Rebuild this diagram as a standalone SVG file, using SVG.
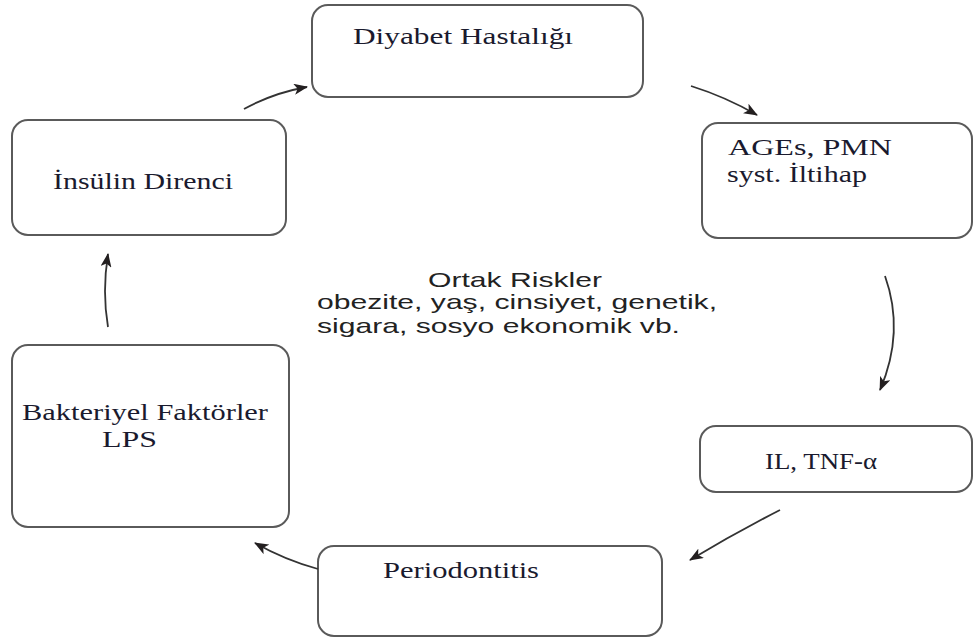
<svg xmlns="http://www.w3.org/2000/svg" width="977" height="642" viewBox="0 0 977 642">
<defs>
<marker id="ah" viewBox="0 0 14 11" refX="13" refY="5.5" markerWidth="14" markerHeight="11" markerUnits="userSpaceOnUse" orient="auto">
<path d="M0,0 L14,5.5 L0,11 L3.5,5.5 Z" fill="#231f20"/>
</marker>
<style>
.box{fill:#fff;stroke:#5a5a5a;stroke-width:2}
.t{font-family:"Liberation Serif","Times New Roman",serif;font-size:23px;fill:#1a1a2e}
.s{font-family:"Liberation Sans",Arial,sans-serif;font-size:21px;fill:#222}
.c{fill:none;stroke:#333;stroke-width:1.8}
</style>
</defs>
<rect width="977" height="642" fill="#fff"/>
<g id="diyabet"><rect class="box" x="312" y="5" width="331" height="92" rx="16"/><text class="t" x="353" y="44" textLength="220" lengthAdjust="spacingAndGlyphs">Diyabet Hastalığı</text></g>
<g id="ages"><rect class="box" x="702" y="123" width="270" height="115" rx="16"/><text class="t" x="728" y="155" textLength="164" lengthAdjust="spacingAndGlyphs">AGEs, PMN</text><text class="t" x="727" y="182" textLength="140" lengthAdjust="spacingAndGlyphs">syst. İltihap</text></g>
<g id="il"><rect class="box" x="700" y="426" width="272" height="66" rx="16"/><text class="t" x="765" y="469" textLength="112" lengthAdjust="spacingAndGlyphs">IL, TNF-α</text></g>
<g id="periodontitis"><rect class="box" x="318" y="546" width="344" height="90" rx="16"/><text class="t" x="383" y="578" textLength="156" lengthAdjust="spacingAndGlyphs">Periodontitis</text></g>
<g id="bakteriyel"><rect class="box" x="12" y="345" width="277" height="182" rx="16"/><text class="t" x="22" y="420" textLength="246" lengthAdjust="spacingAndGlyphs">Bakteriyel Faktörler</text><text class="t" x="102" y="447" textLength="55" lengthAdjust="spacingAndGlyphs">LPS</text></g>
<g id="insulin"><rect class="box" x="12" y="120" width="274" height="115" rx="16"/><text class="t" x="53" y="189" textLength="180" lengthAdjust="spacingAndGlyphs">İnsülin Direnci</text></g>
<g id="ortak"><text class="s" x="428" y="287" textLength="174" lengthAdjust="spacingAndGlyphs">Ortak Riskler</text><text class="s" x="317" y="309" textLength="400" lengthAdjust="spacingAndGlyphs">obezite, yaş, cinsiyet, genetik,</text><text class="s" x="317" y="333" textLength="363" lengthAdjust="spacingAndGlyphs">sigara, sosyo ekonomik vb.</text></g>
<g id="connectors">
<path class="c" d="M244,109 Q273,93 307,87" marker-end="url(#ah)"/>
<path class="c" d="M691,86 Q726,97 757,115" marker-end="url(#ah)"/>
<path class="c" d="M885,276 Q905,332 880,390" marker-end="url(#ah)"/>
<path class="c" d="M780,510 Q735,533 690,560" marker-end="url(#ah)"/>
<path class="c" d="M318,569 Q285,560 255,543" marker-end="url(#ah)"/>
<path class="c" d="M108,327 Q102,292 108,254" marker-end="url(#ah)"/>
</g>
</svg>
